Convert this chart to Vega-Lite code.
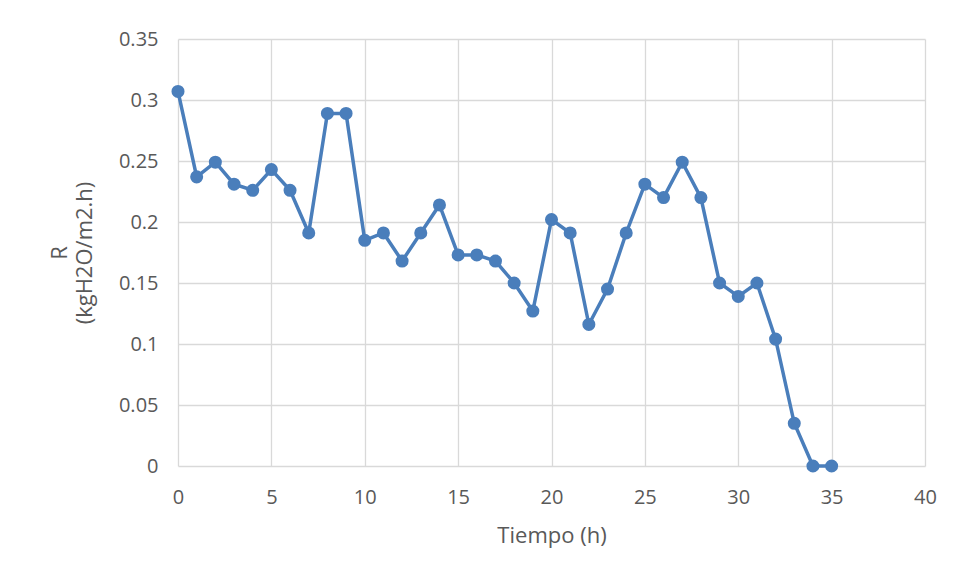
{
  "$schema": "https://vega.github.io/schema/vega-lite/v6.json",
  "width": 747,
  "height": 427,
  "autosize": {"type": "none"},
  "padding": {"left": 178, "top": 39, "right": 29, "bottom": 113},
  "background": "white",
  "config": {
    "view": {"stroke": null},
    "font": "Open Sans",
    "axis": {
      "labelFont": "Open Sans",
      "titleFont": "Open Sans",
      "labelFontSize": 20,
      "titleFontSize": 22,
      "labelColor": "#595959",
      "titleColor": "#595959",
      "titleFontWeight": "normal",
      "gridColor": "#d9d9d9",
      "gridWidth": 1.3,
      "domain": false,
      "ticks": false
    }
  },
  "data": {
    "values": [
      {"t": 0, "R": 0.307}, {"t": 1, "R": 0.237}, {"t": 2, "R": 0.249}, {"t": 3, "R": 0.231},
      {"t": 4, "R": 0.226}, {"t": 5, "R": 0.243}, {"t": 6, "R": 0.226}, {"t": 7, "R": 0.191},
      {"t": 8, "R": 0.289}, {"t": 9, "R": 0.289}, {"t": 10, "R": 0.185}, {"t": 11, "R": 0.191},
      {"t": 12, "R": 0.168}, {"t": 13, "R": 0.191}, {"t": 14, "R": 0.214}, {"t": 15, "R": 0.173},
      {"t": 16, "R": 0.173}, {"t": 17, "R": 0.168}, {"t": 18, "R": 0.150}, {"t": 19, "R": 0.127},
      {"t": 20, "R": 0.202}, {"t": 21, "R": 0.191}, {"t": 22, "R": 0.116}, {"t": 23, "R": 0.145},
      {"t": 24, "R": 0.191}, {"t": 25, "R": 0.231}, {"t": 26, "R": 0.220}, {"t": 27, "R": 0.249},
      {"t": 28, "R": 0.220}, {"t": 29, "R": 0.150}, {"t": 30, "R": 0.139}, {"t": 31, "R": 0.150},
      {"t": 32, "R": 0.104}, {"t": 33, "R": 0.035}, {"t": 34, "R": 0}, {"t": 35, "R": 0}
    ]
  },
  "mark": {
    "type": "line",
    "color": "#4a7ebb",
    "strokeWidth": 3.5,
    "point": {"filled": true, "size": 170, "color": "#4a7ebb", "opacity": 1}
  },
  "encoding": {
    "x": {
      "field": "t",
      "type": "quantitative",
      "scale": {"domain": [0, 40], "nice": false},
      "axis": {"values": [0, 5, 10, 15, 20, 25, 30, 35, 40], "title": "Tiempo (h)", "labelPadding": 21, "titlePadding": 18, "labelFlush": false}
    },
    "y": {
      "field": "R",
      "type": "quantitative",
      "scale": {"domain": [0, 0.35], "nice": false},
      "axis": {"values": [0, 0.05, 0.1, 0.15, 0.2, 0.25, 0.3, 0.35], "title": ["R", "(kgH2O/m2.h)"], "labelPadding": 20, "titlePadding": 22, "titleLineHeight": 25, "labelFlush": false, "format": "~g"}
    }
  }
}
